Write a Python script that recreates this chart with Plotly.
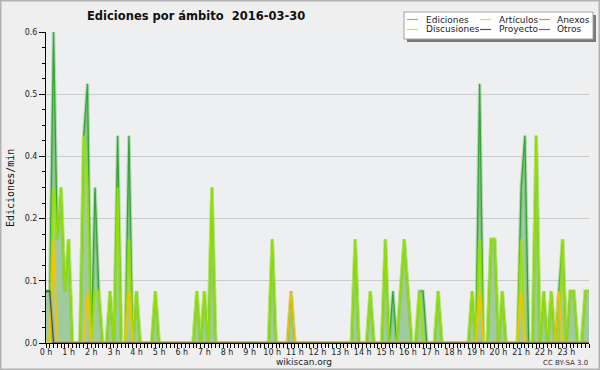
import plotly.graph_objects as go

# ---------------- data (edits per minute, 10-minute bins, 0:00 .. 24:00) ----------------
bin_minutes = list(range(0, 1441, 10))

ediciones = [
    0.1, 0.1, 0.6, 0.2, 0.3, 0.1, 0.2, 0, 0, 0, 0.4, 0.5,
    0, 0.3, 0.1, 0, 0, 0.1, 0, 0.4, 0, 0, 0.4, 0,
    0.1, 0, 0, 0, 0, 0.1, 0, 0, 0, 0, 0, 0,
    0, 0, 0, 0, 0.1, 0, 0.1, 0, 0.3, 0, 0, 0,
    0, 0, 0, 0, 0, 0, 0, 0, 0, 0, 0, 0,
    0.2, 0, 0, 0, 0, 0.1, 0, 0, 0, 0, 0, 0,
    0, 0, 0, 0, 0, 0, 0, 0, 0, 0, 0.2, 0,
    0, 0, 0.1, 0, 0, 0, 0.2, 0, 0.1, 0, 0.1, 0.2,
    0.1, 0, 0, 0.1, 0.1, 0, 0, 0, 0.1, 0, 0, 0,
    0, 0, 0, 0, 0, 0.1, 0, 0.5, 0, 0, 0.2, 0.2,
    0, 0.1, 0, 0, 0, 0, 0.3, 0.4, 0, 0, 0.4, 0,
    0.1, 0, 0.1, 0, 0.1, 0.2, 0, 0.1, 0.1, 0, 0, 0.1,
    0.1,
]
articulos = [
    0, 0, 0.3, 0.2, 0.3, 0.1, 0.2, 0, 0, 0, 0.4, 0.3,
    0, 0.1, 0.1, 0, 0, 0.1, 0, 0.3, 0, 0, 0.2, 0,
    0.1, 0, 0, 0, 0, 0.1, 0, 0, 0, 0, 0, 0,
    0, 0, 0, 0, 0.1, 0, 0.1, 0, 0.3, 0, 0, 0,
    0, 0, 0, 0, 0, 0, 0, 0, 0, 0, 0, 0,
    0.2, 0, 0, 0, 0, 0, 0, 0, 0, 0, 0, 0,
    0, 0, 0, 0, 0, 0, 0, 0, 0, 0, 0.2, 0,
    0, 0, 0.1, 0, 0, 0, 0.2, 0, 0, 0, 0.1, 0.2,
    0.1, 0, 0, 0.1, 0, 0, 0, 0, 0.1, 0, 0, 0,
    0, 0, 0, 0, 0, 0.1, 0, 0.2, 0, 0, 0.2, 0.2,
    0, 0.1, 0, 0, 0, 0, 0.2, 0, 0, 0, 0.4, 0,
    0.1, 0, 0.1, 0, 0, 0.2, 0, 0.1, 0.1, 0, 0, 0.1,
    0.1,
]
discusiones = [
    0, 0, 0.2, 0, 0, 0, 0, 0, 0, 0, 0, 0.1,
    0, 0, 0, 0, 0, 0, 0, 0, 0, 0, 0.1, 0,
    0, 0, 0, 0, 0, 0, 0, 0, 0, 0, 0, 0,
    0, 0, 0, 0, 0, 0, 0, 0, 0, 0, 0, 0,
    0, 0, 0, 0, 0, 0, 0, 0, 0, 0, 0, 0,
    0, 0, 0, 0, 0, 0.1, 0, 0, 0, 0, 0, 0,
    0, 0, 0, 0, 0, 0, 0, 0, 0, 0, 0, 0,
    0, 0, 0, 0, 0, 0, 0, 0, 0, 0, 0, 0,
    0, 0, 0, 0, 0, 0, 0, 0, 0, 0, 0, 0,
    0, 0, 0, 0, 0, 0, 0, 0.1, 0, 0, 0, 0,
    0, 0, 0, 0, 0, 0, 0.1, 0, 0, 0, 0, 0,
    0, 0, 0, 0, 0.1, 0, 0, 0, 0, 0, 0, 0,
    0,
]
proyecto = [0.1, 0.1] + [0] * 143
anexos = [0] * 145
otros = [0] * 145

hour_ticks = list(range(24))
hour_labels = [f"{h} h" for h in hour_ticks]
y_ticks = [0, 0.12, 0.24, 0.36, 0.48, 0.6]
y_labels = ["0.0", "0.1", "0.2", "0.4", "0.5", "0.6"]

legend_items = [
    ("Ediciones", "#78c878"), ("Artículos", "#c8ec3c"), ("Anexos", "#f08048"),
    ("Discusiones", "#f8d038"), ("Proyecto", "#555555"), ("Otros", "#9040f0"),
]

# ---------------- figure ----------------
W, H = 600, 370
L, R, T, B = 46, 11, 32, 27
PW, PH = W - L - R, H - T - B


def px(x):
    return (x - L) / PW


def py(y):
    return (H - B - y) / PH


x_hours = [m / 60 for m in bin_minutes]

fig = go.Figure()
fig.add_trace(go.Scatter(x=x_hours, y=ediciones, mode="lines", fill="tozeroy",
                         fillcolor="rgb(160,202,160)", line=dict(width=0, color="rgba(0,0,0,0)"),
                         hoverinfo="skip", showlegend=False))


def add_line(values, color, glow, width=1.5):
    fig.add_trace(go.Scatter(x=x_hours, y=values, mode="lines",
                             line=dict(color=glow, width=3.5), showlegend=False, hoverinfo="skip"))
    fig.add_trace(go.Scatter(x=x_hours, y=values, mode="lines",
                             line=dict(color=color, width=width), showlegend=False))


add_line(ediciones, "#35a535", "rgba(60,170,60,0.3)", 1.3)
add_line(anexos, "#f08048", "rgba(240,128,72,0)", 1)
add_line(otros, "#9040f0", "rgba(144,64,240,0)", 1)
add_line(articulos, "#96e000", "rgba(170,235,0,0.4)", 1.3)
add_line(discusiones, "#f5c400", "rgba(250,200,0,0.3)", 1.3)
add_line(proyecto, "#444444", "rgba(60,60,60,0.15)", 1.1)

shapes = []
annotations = []

# outer frame
shapes.append(dict(type="rect", xref="paper", yref="paper", x0=px(0.5), x1=px(W - 0.5),
                   y0=py(0.5), y1=py(H - 0.5), line=dict(color="#b4b4b4", width=2),
                   fillcolor="rgba(0,0,0,0)", layer="above"))

# legend box with shadow
shapes.append(dict(type="rect", xref="paper", yref="paper", x0=px(407), x1=px(596),
                   y0=py(15), y1=py(42), line=dict(width=0), fillcolor="#7a7a7a", layer="above"))
shapes.append(dict(type="rect", xref="paper", yref="paper", x0=px(404), x1=px(593),
                   y0=py(12), y1=py(39), line=dict(width=1, color="#a0a0a0"),
                   fillcolor="white", layer="above"))
col_line_x = [407, 480, 539]
col_text_x = [424, 497, 555]
row_y = [19.5, 29.5]
for i, (name, color) in enumerate(legend_items):
    r, c = divmod(i, 3)
    shapes.append(dict(type="line", xref="paper", yref="paper",
                       x0=px(col_line_x[c]), x1=px(col_line_x[c] + 11),
                       y0=py(row_y[r]), y1=py(row_y[r]), line=dict(color=color, width=1.2),
                       layer="above"))
    annotations.append(dict(text=name, xref="paper", yref="paper", x=px(col_text_x[c]),
                            y=py(row_y[r]), xanchor="left", yanchor="middle", showarrow=False,
                            font=dict(family="DejaVu Sans", size=9, color="#222222")))

# title
annotations.append(dict(text="<b>Ediciones por ámbito  2016-03-30</b>", xref="paper", yref="paper",
                        x=px(85), y=py(16), xanchor="left", yanchor="middle", showarrow=False,
                        font=dict(family="DejaVu Sans", size=11.5, color="#111111")))
# y title
annotations.append(dict(text="Ediciones/min", xref="paper", yref="paper", x=px(10), y=py(188),
                        xanchor="center", yanchor="middle", textangle=-90, showarrow=False,
                        font=dict(family="DejaVu Sans Mono", size=10, color="#111111")))
# footer
annotations.append(dict(text="wikiscan.org", xref="paper", yref="paper", x=px(304), y=py(362),
                        xanchor="center", yanchor="middle", showarrow=False,
                        font=dict(family="DejaVu Sans", size=9, color="#222222")))
annotations.append(dict(text="CC BY-SA 3.0", xref="paper", yref="paper", x=px(590), y=py(363),
                        xanchor="right", yanchor="middle", showarrow=False,
                        font=dict(family="DejaVu Sans", size=7, color="#333333")))

fig.update_layout(
    width=W, height=H, margin=dict(l=L, r=R, t=T, b=B, pad=0),
    paper_bgcolor="#efefef", plot_bgcolor="#eeeff1",
    showlegend=False, shapes=shapes, annotations=annotations,
    font=dict(family="DejaVu Sans", size=8, color="#222222"),
)
fig.update_xaxes(range=[0, 24], tickmode="array", tickvals=hour_ticks, ticktext=hour_labels,
                 ticks="outside", ticklen=4, tickwidth=1, tickcolor="black",
                 ticklabelstandoff=-3,
                 minor=dict(tickmode="linear", tick0=0, dtick=1 / 6, ticks="outside", ticklen=4,
                            tickwidth=1, tickcolor="black", showgrid=False),
                 showgrid=False, zeroline=False, showline=True, linecolor="black", linewidth=1,
                 tickfont=dict(family="DejaVu Sans", size=8, color="#222222"), fixedrange=True)
fig.update_yaxes(range=[0, 0.6], tickmode="array", tickvals=y_ticks, ticktext=y_labels,
                 ticks="outside", ticklen=6, tickwidth=1, tickcolor="black",
                 minor=dict(tickmode="linear", tick0=0, dtick=0.03, ticks="outside", ticklen=3,
                            tickwidth=1, tickcolor="black", showgrid=False),
                 showgrid=True, gridcolor="#cccccc", gridwidth=1, zeroline=False,
                 showline=True, linecolor="black", linewidth=1,
                 tickfont=dict(family="DejaVu Sans", size=8, color="#222222"), fixedrange=True)

fig.write_html("out.html", config={"displayModeBar": False},
               post_script="document.body.style.margin='0';document.body.style.padding='0';")
